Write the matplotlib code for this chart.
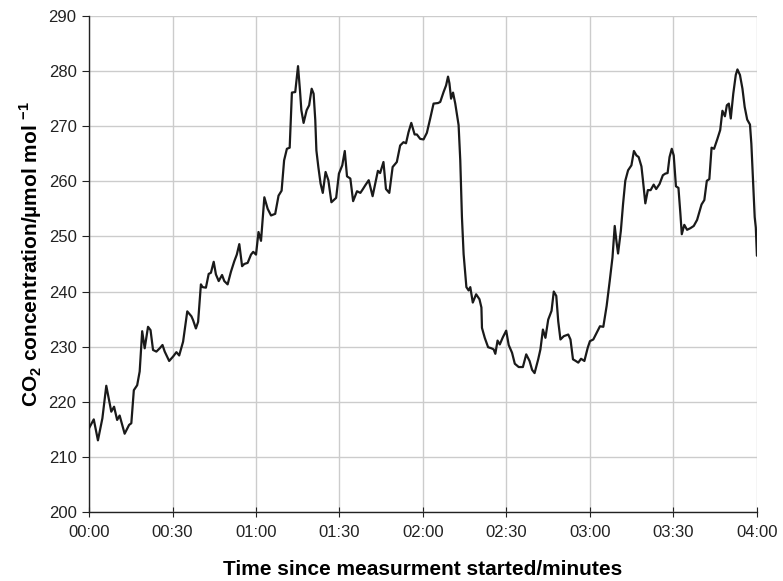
import matplotlib
matplotlib.use("Agg")
import matplotlib.pyplot as plt
from matplotlib.ticker import FuncFormatter

plt.rcParams['font.family'] = ['Liberation Sans', 'DejaVu Sans']
plt.rcParams['mathtext.fontset'] = 'custom'
plt.rcParams['mathtext.rm'] = 'Liberation Sans:bold'
plt.rcParams['mathtext.bf'] = 'Liberation Sans:bold'

# elapsed time (s) and CO2 reading (umol/mol)
elapsed = [
    0, 1.7, 3.2, 4.8, 6.2, 8.0, 9.0, 10.1, 11.0, 12.8, 14.4, 15.2, 16.1, 17.3, 18.2,
    19.1, 20.0, 21.2, 22.1, 23.0, 24.2, 25.4, 26.4, 27.2, 28.8, 30.2, 31.4, 32.4,
    33.8, 35.3, 36.8, 37.4, 38.4, 39.2, 40.2, 40.8, 42.0, 43.0, 43.8, 44.8, 45.6,
    46.6, 47.8, 48.6, 49.8, 51.0, 52.2, 53.1, 54.0, 55.0, 55.8, 57.0, 58.2, 59.0,
    60.0, 60.9, 61.8, 63.0, 64.2, 65.4, 66.9, 68.1, 69.2, 70.1, 71.1, 72.1, 72.5,
    72.9, 74.1, 75.1, 75.8, 76.3, 77.1, 78.2, 79.1, 80.0, 80.7, 81.3, 81.7, 82.4,
    83.2, 84.0, 85.0, 86.0, 87.1, 88.8, 89.8, 91.0, 91.9, 92.7, 93.9, 94.9, 96.3,
    97.5, 98.3, 99.3, 100.5, 101.9, 103.8, 104.6, 105.8, 106.7, 107.9, 109.1, 110.6,
    111.8, 113.0, 113.9, 114.8, 115.8, 117.0, 117.8, 119.0, 120.2, 121.4, 122.6,
    123.8, 125.4, 126.2, 127.4, 128.3, 129.0, 129.5, 130.1, 130.8, 131.6, 132.8,
    133.4, 134.0, 134.6, 135.6, 136.4, 137.0, 137.9, 139.1, 140.3, 141.0, 141.2,
    142.2, 143.4, 144.6, 145.4, 146.0, 146.8, 147.6, 148.7, 149.9, 150.8, 152.0,
    153.0, 154.4, 155.9, 157.1, 158.3, 159.2, 160.1, 161.4, 162.2, 163.1, 164.0,
    165.0, 166.2, 167.0, 167.9, 168.6, 169.4, 170.6, 172.2, 173.0, 173.9, 174.9,
    175.8, 176.8, 178.0, 179.2, 180.0, 181.2, 182.4, 183.6, 184.8, 186.0, 187.1,
    188.1, 188.9, 189.5, 190.1, 191.1, 191.9, 192.7, 193.7, 194.9, 195.8, 196.7,
    197.5, 198.5, 199.0, 199.9, 200.8, 201.8, 202.9, 203.8, 205.0, 206.2, 207.1,
    207.9, 208.6, 209.4, 210.1, 210.9, 211.8, 212.5, 213.0, 213.9, 214.9, 216.1,
    217.3, 218.5, 219.3, 220.1, 221.1, 222.0, 222.9, 223.7, 224.6, 225.8, 226.8,
    227.6, 228.5, 229.2, 229.9, 230.6, 231.5, 232.4, 233.0, 233.9, 234.8, 235.6,
    236.5, 237.5, 238.0, 238.6, 239.2, 239.6, 240.0,
]
co2 = [
    215.2, 216.8, 213.0, 217.0, 222.9, 218.2, 219.1, 216.7, 217.5, 214.2, 215.8, 216.1,
    222.1, 223.0, 225.5, 232.8, 229.7, 233.6, 233.0, 229.4, 229.1, 229.7, 230.3, 229.1,
    227.4, 228.2, 229.0, 228.4, 230.9, 236.4, 235.5, 234.8, 233.3, 234.5, 241.3, 240.8,
    240.7, 243.2, 243.4, 245.4, 243.1, 241.9, 243.0, 241.9, 241.3, 243.6, 245.5, 246.7,
    248.6, 244.6, 245.0, 245.2, 246.7, 247.2, 246.7, 250.8, 249.2, 257.1, 255.0, 253.8,
    254.1, 257.4, 258.3, 263.8, 265.9, 266.1, 271.1, 276.1, 276.2, 280.9, 276.5, 272.9,
    270.6, 272.9, 273.8, 276.8, 275.9, 271.1, 265.6, 262.6, 259.6, 257.9, 261.7, 260.2,
    256.2, 257.0, 261.4, 262.9, 265.5, 260.9, 260.5, 256.4, 258.2, 257.9, 258.5, 259.3,
    260.2, 257.3, 261.9, 261.5, 263.5, 258.6, 257.9, 262.6, 263.5, 266.5, 267.1, 266.9,
    268.9, 270.6, 268.5, 268.5, 267.7, 267.6, 268.8, 271.4, 274.1, 274.2, 274.4, 276.2,
    277.4, 279.0, 277.8, 275.0, 276.1, 274.1, 270.2, 263.8, 253.5, 246.8, 240.8, 240.2,
    240.8, 238.0, 239.5, 238.6, 237.1, 233.4, 231.6, 229.9, 229.7, 229.5, 228.7, 231.1,
    230.4, 231.7, 232.9, 230.3, 228.9, 226.9, 226.3, 226.3, 228.6, 227.4, 225.8, 225.2,
    227.7, 229.5, 233.1, 231.6, 234.9, 236.5, 240.0, 239.2, 234.6, 231.3, 231.9, 232.2,
    231.3, 227.7, 227.4, 227.1, 227.8, 227.4, 229.8, 231.0, 231.3, 232.5, 233.7, 233.6,
    237.4, 241.9, 246.2, 251.9, 249.2, 246.9, 251.0, 255.9, 260.1, 262.0, 262.9, 265.5,
    264.7, 264.4, 262.7, 260.4, 256.0, 258.4, 258.4, 259.4, 258.6, 259.5, 261.1, 261.4,
    261.5, 264.4, 265.9, 264.7, 259.1, 258.8, 254.1, 250.4, 252.1, 251.2, 251.5, 251.9,
    253.0, 254.4, 255.8, 256.6, 260.1, 260.4, 266.1, 265.9, 267.7, 269.3, 272.8, 271.8,
    273.8, 274.1, 271.4, 275.9, 279.3, 280.3, 279.3, 276.8, 273.5, 271.2, 270.3, 266.8,
    260.0, 253.5, 251.6, 246.5,
]

x_ticks = [0, 30, 60, 90, 120, 150, 180, 210, 240]
y_ticks = [200, 210, 220, 230, 240, 250, 260, 270, 280, 290]


def mmss(val, pos):
    return f"{int(val) // 60:02d}:{int(val) % 60:02d}"


fig = plt.figure(figsize=(7.83, 5.81), dpi=100)
ax = fig.add_axes([0.1137, 0.1188, 0.853, 0.8537])

ax.plot(elapsed, co2, color='#1a1a1a', lw=1.6, solid_joinstyle='round',
        solid_capstyle='round', zorder=3)

ax.set_xlim(0, 240)
ax.set_ylim(200, 290)
ax.set_xticks(x_ticks)
ax.set_yticks(y_ticks)
ax.xaxis.set_major_formatter(FuncFormatter(mmss))
ax.grid(True, color='#cccccc', lw=1.0, zorder=0)

for side in ['top', 'right']:
    ax.spines[side].set_visible(False)
for side in ['left', 'bottom']:
    ax.spines[side].set_color('#222222')
    ax.spines[side].set_linewidth(1.0)

ax.tick_params(axis='y', direction='out', length=5, width=0.8, labelsize=12, pad=4, colors='#222222')
ax.tick_params(axis='x', direction='inout', length=7, width=0.8, labelsize=12, pad=6, colors='#222222')

ax.set_xlabel('Time since measurment started/minutes', fontsize=15, fontweight='bold', labelpad=14)
ax.set_ylabel(r'CO$_2$ concentration/µmol mol $^{-1}$', fontsize=15, fontweight='bold')
ax.yaxis.set_label_coords(-0.068, 0.52)

fig.savefig('out.png', dpi=100)
